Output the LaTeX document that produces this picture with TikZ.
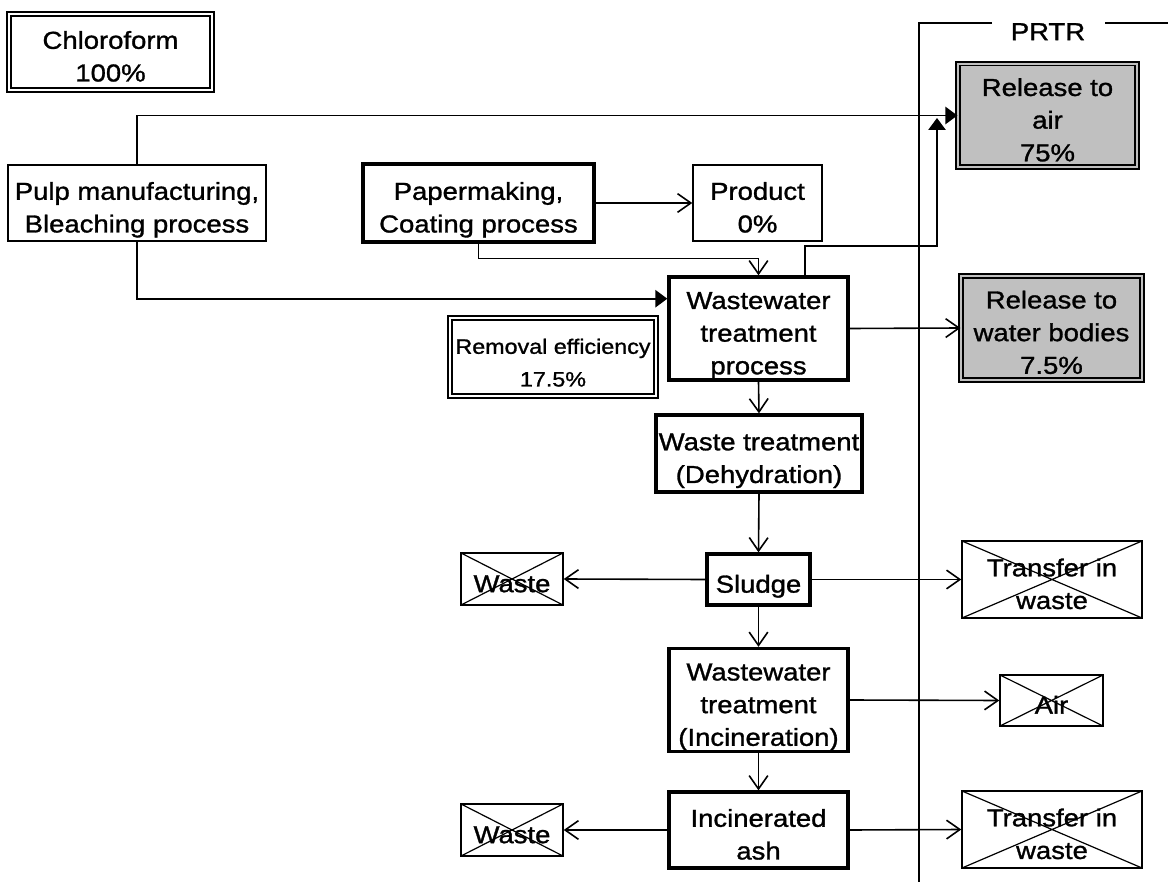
\documentclass[tikz,border=0pt]{standalone}
\usepackage{fontspec}
\setmainfont[FakeStretch=1.12,FakeBold=1.2]{Liberation Sans}
\usetikzlibrary{arrows.meta,calc}

% struts that fix the height of the first line and the depth of the last one
\newcommand\ts{\rule{0pt}{24pt}}
\tikzset{
  every node/.style={align=center, inner sep=0pt, font=\fontsize{18.4}{24.5}\selectfont,
    execute at begin node={\rule{0pt}{24pt}},
    execute at end node={\rule[-4.3pt]{0pt}{4.3pt}}},
  sz/.style 2 args={minimum width=#1*0.75pt, minimum height=#2*0.75pt},
  thinbox/.style={draw, line width=1.1pt},
  thickbox/.style={draw, line width=2.5pt},
  dblbox/.style={draw, line width=0.9pt, double=white, double distance=2pt},
  graybox/.style={draw, line width=0.9pt, fill=boxgray, double=boxgray, double distance=2pt},
  crossbox/.style={thinbox, path picture={
      \draw[line width=0.9pt] (path picture bounding box.north west) -- (path picture bounding box.south east)
            (path picture bounding box.south west) -- (path picture bounding box.north east);}},
  flow/.style={line width=1.2pt, -{Straight Barb[length=10pt,width=14pt,line width=1.2pt]}},
  solidflow/.style={line width=1.2pt, -{Triangle[length=9pt,width=13pt]}},
}
\definecolor{boxgray}{RGB}{192,192,192}

\begin{document}
\begin{tikzpicture}[x=0.75pt, y=-0.75pt]
\useasboundingbox (0,0) rectangle (1168,891);

% source and process boxes
\node[dblbox, sz={203}{76}] (chl) at (110.5,52) {\ts Chloroform\\100\%};
\node[thinbox, sz={258}{76}] (pulp) at (137,203) {\ts Pulp manufacturing,\\Bleaching process};
\node[thickbox, sz={231}{78}] (paper) at (478.5,203) {\ts Papermaking,\\Coating process};
\node[thinbox, sz={129}{76}] (prod) at (757.5,203) {\ts Product\\0\%};
\node[thickbox, sz={179}{101}] (ww) at (758.5,328.5) {\ts Wastewater\\treatment\\process};
\node[dblbox, sz={206}{78}, font=\fontsize{15.6}{24.5}\selectfont] (rem) at (553,357) {\ts Removal efficiency\\17.5\%};
\node[thickbox, sz={206}{77}] (dehyd) at (759,453.5) {\ts Waste treatment\\(Dehydration)};
\node[thickbox, sz={103}{51}] (sludge) at (758.5,579.5) {Sludge};
\node[thickbox, sz={179}{102}] (incin) at (758.5,700) {\ts Wastewater\\treatment\\(Incineration)};
\node[thickbox, sz={179}{76}] (ash) at (758.5,830) {\ts Incinerated\\ash};

% PRTR column
\node (prtr) at (1048,27) {PRTR};
\draw[line width=0.9pt] (992,23) -- (919,23) -- (919,882);
\draw[line width=0.9pt] (1105,23) -- (1168,23);
\node[graybox, sz={179}{103}] (air) at (1047.5,115.5) {\ts Release to\\air\\75\%};
\node[graybox, sz={181}{104}] (water) at (1051.5,328) {\ts Release to\\water bodies\\7.5\%};

% crossed-out destinations
\node[crossbox, sz={102}{52}] (wasteA) at (512,579) {Waste};
\node[crossbox, sz={180}{77}] (transA) at (1052,579.5) {\ts Transfer in\\waste};
\node[crossbox, sz={103}{51}] (airX) at (1051.5,700.5) {Air};
\node[crossbox, sz={102}{52}] (wasteB) at (512,830) {Waste};
\node[crossbox, sz={180}{77}] (transB) at (1052,829.5) {\ts Transfer in\\waste};

% connectors
\coordinate (airjoin) at (937,118);
\draw[solidflow] (pulp.north) |- (air.west);
\draw[solidflow] (pulp.south) |- ($(ww.north west)!0.22!(ww.south west)$);
\draw[flow] (paper.east) -- (prod.west);
\draw[flow] (paper.south) -- ++(0,15) -| (ww.north);
\draw[solidflow] ($(ww.north)+(46.5,0)$) -- ++(0,-29) -| (airjoin);
\draw[flow] (ww.east) -- (water.west);
\draw[flow] (ww.south) -- (dehyd.north);
\draw[flow] (dehyd.south) -- (sludge.north);
\draw[flow] (sludge.west) -- (wasteA.east);
\draw[flow] (sludge.east) -- (transA.west);
\draw[flow] (sludge.south) -- (incin.north);
\draw[flow] (incin.east) -- (airX.west);
\draw[flow] (incin.south) -- (ash.north);
\draw[flow] (ash.west) -- (wasteB.east);
\draw[flow] (ash.east) -- (transB.west);
\end{tikzpicture}
\end{document}
